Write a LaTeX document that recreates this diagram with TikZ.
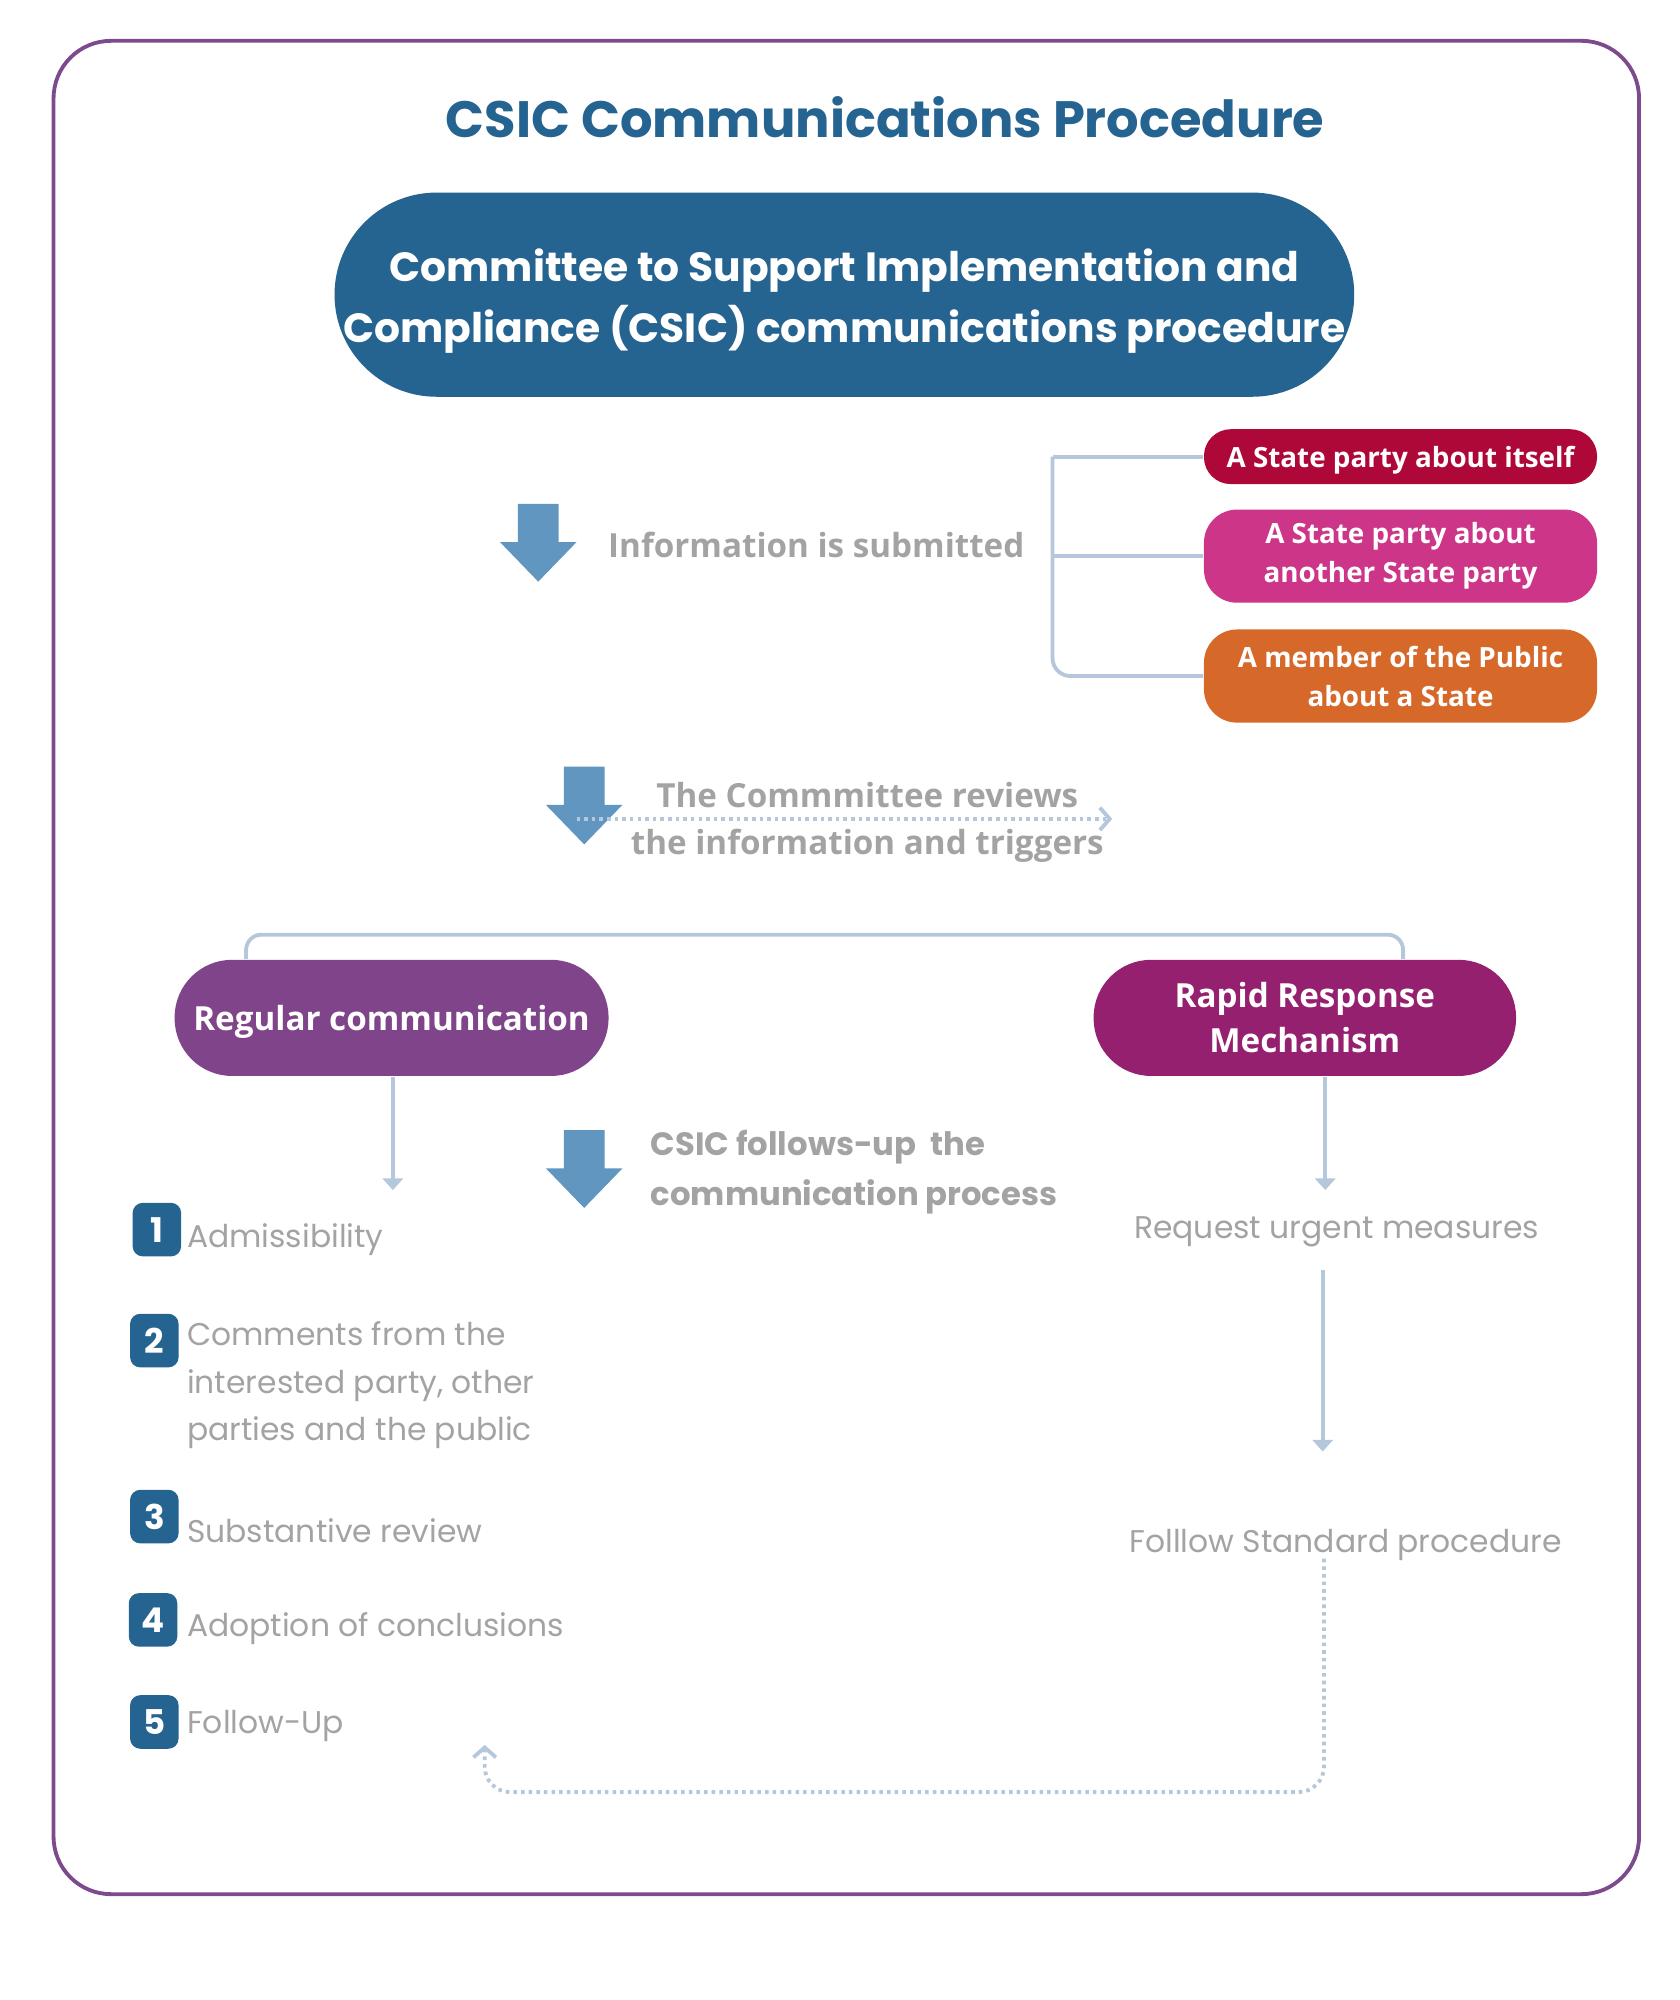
\documentclass[tikz,border=0pt]{standalone}
\usepackage{fontspec}
\setmainfont{Open Sans}
\newfontfamily\popfont{Poppins}
\usetikzlibrary{arrows.meta,positioning}
\definecolor{csicblue}{RGB}{37,99,144}
\definecolor{arrowblue}{RGB}{96,150,192}
\definecolor{linkgray}{RGB}{181,199,218}
\definecolor{textgray}{RGB}{163,163,163}
\definecolor{selfred}{RGB}{174,8,57}
\definecolor{othermag}{RGB}{204,53,136}
\definecolor{publicorg}{RGB}{214,105,42}
\definecolor{regpurple}{RGB}{127,68,137}
\definecolor{rapidplum}{RGB}{149,32,112}
\definecolor{framepurple}{RGB}{125,74,141}
\tikzset{
  pill/.style={text=white, align=center, inner sep=0pt},
  sourcebox/.style={pill, minimum width=3.08cm, font=\bfseries\fontsize{6.2}{8.7}\selectfont},
  graynote/.style={text=textgray, align=center, inner sep=1pt},
  link/.style={draw=linkgray, line width=0.85pt},
  thinarrow/.style={link, -{Triangle[width=4.5pt,length=2.6pt]}},
  dotlink/.style={draw=linkgray, line width=0.85pt, dash pattern=on 0.8pt off 0.9pt},
  numbox/.style={fill=csicblue, text=white, rounded corners=0.08cm, minimum width=0.38cm,
    minimum height=0.42cm, inner sep=0pt, font=\popfont\bfseries\fontsize{7.6}{8}\selectfont},
  steptext/.style={text=textgray, anchor=west, align=left, inner sep=0pt,
    font=\popfont\fontsize{7.0}{10.6}\selectfont}
}
\begin{document}
\begin{tikzpicture}[x=0.01cm, y=-0.01cm]
        % Format de la page
        \useasboundingbox (0,0) rectangle (1317,1568);
        \def\fatarrow#1#2{\fill[arrowblue] (#1-16,#2) -- (#1+16,#2) -- (#1+16,#2+30) -- (#1+30,#2+30)
          -- (#1,#2+61) -- (#1-30,#2+30) -- (#1-16,#2+30) -- cycle;}
        % Cadre
        \draw[framepurple, line width=0.85pt, rounded corners=0.45cm] (42,32) rectangle (1285,1485);
        % Titre
        \node[text=csicblue, font=\popfont\bfseries\fontsize{11.4}{14}\selectfont] (title) at (694,92) {CSIC Communications Procedure};
        \node[pill, fill=csicblue, minimum width=7.99cm, minimum height=1.6cm, rounded corners=0.8cm,
          font=\popfont\bfseries\fontsize{9.1}{13.7}\selectfont] (csic) at (662,231)
          {\raisebox{-0.04cm}[\height][\depth]{\begin{tabular}{@{}c@{}}Committee to Support Implementation and\\Compliance (CSIC) communications procedure\end{tabular}}};
        % Qui soumet l'information
        \node[sourcebox, fill=selfred, minimum height=0.43cm, rounded corners=0.21cm] (self) at (1098,358) {\raisebox{-0.03cm}[\height][\depth]{A State party about itself}};
        \node[sourcebox, fill=othermag, minimum height=0.73cm, rounded corners=0.26cm] (other) at (1098,436) {A State party about\\another State party};
        \node[sourcebox, fill=publicorg, minimum height=0.73cm, rounded corners=0.26cm] (public) at (1098,530) {A member of the Public\\about a State};
        \draw[link] (self.west) -- ++(-118,0) coordinate (bk);
        \draw[link, rounded corners=0.14cm] (bk) |- (public.west);
        \draw[link] (other.west) -- (other.west -| bk);
        % Etape 1
        \fatarrow{422}{395}
        \node[graynote, font=\bfseries\fontsize{7.4}{8}\selectfont] (submit) at (640,427) {Information is submitted};
        % Etape 2
        \fatarrow{458}{601}
        \coordinate (rv1) at (452,642);
        \coordinate (rv2) at (872,642);
        \draw[dotlink, -{Straight Barb[length=2.2pt,width=5pt]}] (rv1) -- (rv2);
        \node[graynote, font=\bfseries\fontsize{7.4}{10.5}\selectfont] (review) at (680,645) {The Commmittee reviews\\the information and triggers};
        % Deux voies
        \node[pill, fill=regpurple, minimum width=3.40cm, minimum height=0.91cm, rounded corners=0.45cm,
          font=\bfseries\fontsize{7.4}{10}\selectfont] (regular) at (307,798) {\raisebox{-0.03cm}[\height][\depth]{Regular communication}};
        \node[pill, fill=rapidplum, minimum width=3.31cm, minimum height=0.91cm, rounded corners=0.45cm,
          font=\bfseries\fontsize{7.4}{10}\selectfont] (rapid) at (1023,798) {Rapid Response\\Mechanism};
        \draw[link, rounded corners=0.12cm] ([xshift=-1.14cm]regular.north) -- ++(0,-19) -| ([xshift=0.77cm]rapid.north);
        % Etape 3
        \fatarrow{458}{886}
        \node[graynote, align=left, anchor=west, font=\popfont\bfseries\fontsize{7.2}{11.1}\selectfont] (follow) at (506,919) {CSIC follows-up~ the\\communication process};
        % Voie reguliere
        \coordinate (r1) at (308,933);
        \draw[thinarrow] (regular.south -| r1) -- (r1);
        \node[numbox] (n1) at (123,964) {1};
        \node[numbox] (n2) at (121,1051) {2};
        \node[numbox] (n3) at (121,1189) {3};
        \node[numbox] (n4) at (120,1270) {4};
        \node[numbox] (n5) at (121,1350) {5};
        \node[steptext] (i1) at (146,972) {Admissibility};
        \node[steptext] (i2) at (146,1086) {Comments from the\\interested party, other\\parties and the public};
        \node[steptext] (i3) at (146,1200) {Substantive review};
        \node[steptext] (i4) at (146,1277) {Adoption of conclusions};
        \node[steptext] (i5) at (146,1353) {Follow-Up};
        % Voie rapide
        \coordinate (u1) at (1039,933);
        \draw[thinarrow] (rapid.south -| u1) -- (u1);
        \node[steptext, anchor=center, align=center] (urgent) at (1048,966) {Request urgent measures};
        \coordinate (u2) at (1037,996);
        \coordinate (u3) at (1037,1138);
        \draw[thinarrow] (u2) -- (u3);
        \node[steptext, anchor=center, align=center] (standard) at (1055,1211) {Folllow Standard procedure};
        % Retour vers le suivi
        \coordinate (s1) at (1038,1222);
        \coordinate (back) at (380,1368);
        \draw[dotlink, rounded corners=0.2cm, -{Straight Barb[length=2.2pt,width=5pt]}] (s1) |- (380,1405) -- (back);
    \end{tikzpicture}
\end{document}
